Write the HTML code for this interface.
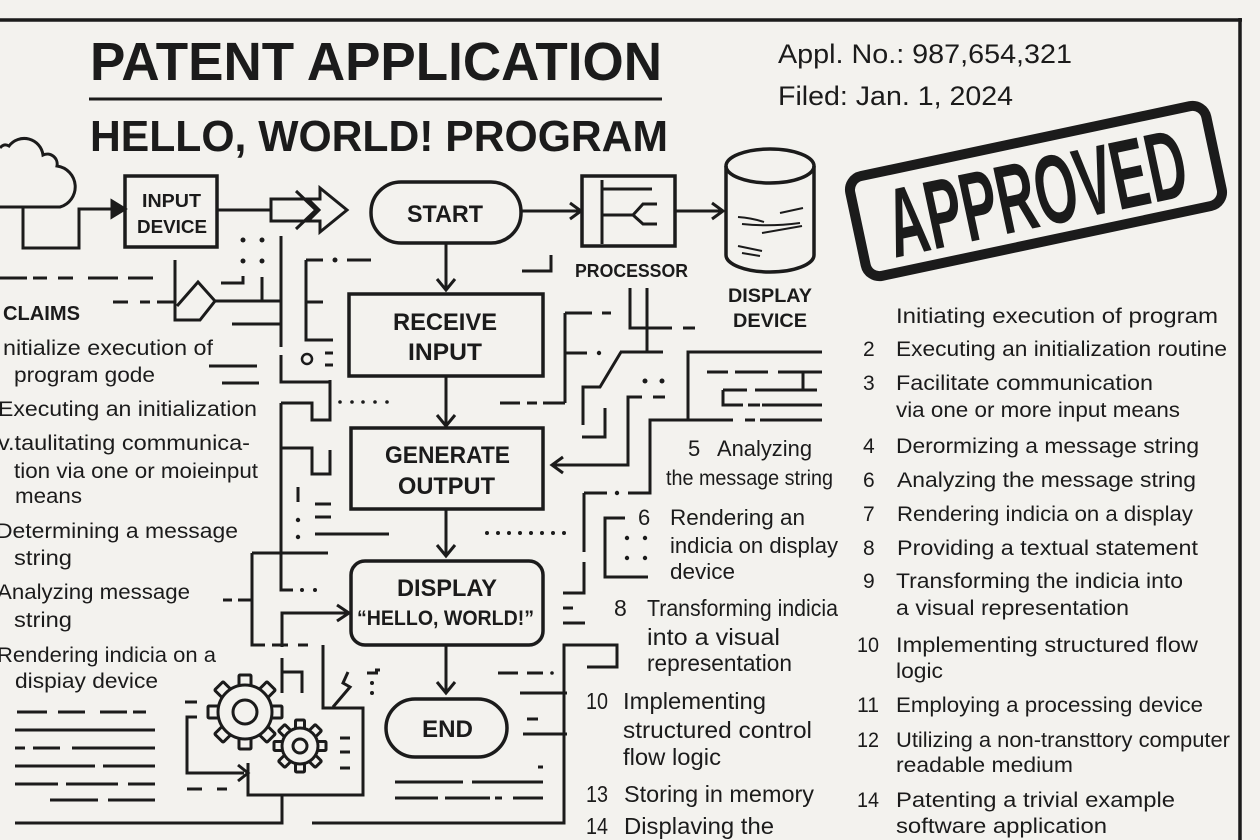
<!DOCTYPE html>
<html><head><meta charset="utf-8"><style>
html,body{margin:0;padding:0;background:#f3f2ee;}
svg{display:block;font-family:"Liberation Sans",sans-serif;}
</style></head><body>
<svg width="1260" height="840" viewBox="0 0 1260 840" xmlns="http://www.w3.org/2000/svg">
<rect width="1260" height="840" fill="#f3f2ee"/>
<defs>
<rect id="t1" x="-6" y="-37" width="12" height="15" rx="1"/>
<rect id="t2" x="-4.5" y="-26" width="9" height="12" rx="1"/>
</defs>
<g stroke="#1b1b1b" stroke-width="3" fill="none">
<path d="M0,20 H1242" stroke-width="3.5"/>
<path d="M1240,18 V840" stroke-width="3.5"/>
<path d="M89,99 H662"/>
<path d="M0,148 Q4,143 9,146 A19,19 0 0 1 43,155 A10,10 0 0 1 57,166 A21,21 0 0 1 60,207 H0"/>
<path d="M23,207 V248 H79 V209 H116"/>
<path d="M112,201 L125,209 L112,217 Z" fill="#1b1b1b"/>
<rect x="125" y="176" width="92" height="71" stroke-width="3.5"/>
<path d="M217,210 H271"/>
<path d="M271,199 H320 V188 L347,210 L320,232 V221 H271 Z"/>
<path d="M296,191 L316,210 L296,229 M308,199 L319,210 L308,221"/>
<rect x="371" y="182" width="150" height="61" rx="30" stroke-width="3.5"/>
<path d="M521,211 H580 M570,203 L581,211 L570,219"/>
<rect x="582" y="176" width="93" height="70" stroke-width="3.5"/>
<path d="M602,180 V244 M602,189 H652 M602,215 H633 L643,204 H657 M633,215 L643,224 H657"/>
<path d="M675,211 H722 M712,203 L723,211 L712,219"/>
<path d="M726,166 V255 A44,17 0 0 0 814,255 V166" stroke-width="3.5"/>
<ellipse cx="770" cy="166" rx="44" ry="17" stroke-width="3.5"/>
<path d="M738,217 Q752,218 764,222 M780,213 L803,208 M742,224 Q770,227 800,223 M762,233 L802,226 M738,246 L762,251 M742,253 L760,256" stroke-width="2"/>
<path d="M446,243 V290 M437,279 L446,290 L455,279"/>
<rect x="349" y="294" width="194" height="82" stroke-width="3.5"/>
<path d="M446,376 V426 M437,415 L446,426 L455,415"/>
<rect x="351" y="428" width="192" height="81" stroke-width="3.5"/>
<path d="M446,509 V556 M437,545 L446,556 L455,545"/>
<rect x="351" y="561" width="192" height="84" rx="14" stroke-width="3.5"/>
<path d="M446,645 V693 M437,682 L446,693 L455,682"/>
<rect x="386" y="699" width="121" height="58" rx="29" stroke-width="3.5"/>
<path d="M282,647 V613 H347 M337,605 L349,613 L337,621"/>
<path d="M642,397 H628 V465 H553 M563,457 L552,465 L563,473 M653,397 H665"/>
<path d="M0,278 H27 M33,278 H47 M58,278 H73 M88,278 H118 M128,278 H153"/>
<path d="M113,302 H128 M140,302 H150 M157,302 H176"/>
<path d="M175,260 V320 H200 L215,301 L198,282 L177,306"/>
<path d="M215,301 H281 M221,283 H243 V276 M262,277 V301 M232,324 H281 M281,236 V347"/>
<path d="M306,260 V340 H333 M306,260 H323 M347,260 H371 M306,302 H323"/>
<path d="M325,353 H333 M325,365 H333 M209,366 H257 M222,383 H259"/>
<circle cx="307" cy="359" r="5" stroke-width="2.5"/>
<path d="M281,355 V382 H330 V420 H312 V403 H281 M330,380 V382"/>
<path d="M281,403 V590 H293 M281,448 H312 V474 H330 V450"/>
<path d="M298,487 V502 M315,504 H331 M315,517 H331 M315,534 H389"/>
<path d="M252,553 H328 M252,553 V645 H265 M272,645 H288 M298,645 H308 M223,600 H232 M238,600 H252"/>
<path d="M323,645 V708 H363 V795 H248 V763"/>
<path d="M282,658 V693 M282,672 H302 V693 M333,707 L350,687 L343,683 L348,672"/>
<path d="M197,717 H187 V773 H244 M238,765 L248,773 L238,781"/>
<path d="M185,702 H197 M187,789 H202 M217,789 H227 M340,738 H350 M340,752 H350 M340,768 H350 M367,673 H378"/>
<path d="M282,795 V823 H15 M312,823 H564 V645 H617 V667 H587"/>
<path d="M17,712 H47 M58,712 H85 M100,712 H127 M133,712 H146 M15,730 H155 M15,748 H25 M33,748 H60 M72,748 H155 M15,766 H95 M103,766 H155 M15,784 H58 M66,784 H118 M128,784 H155 M50,800 H98 M108,800 H155"/>
<g transform="translate(245,712)" fill="#f3f2ee">
<use href="#t1"/><use href="#t1" transform="rotate(45)"/><use href="#t1" transform="rotate(90)"/><use href="#t1" transform="rotate(135)"/><use href="#t1" transform="rotate(180)"/><use href="#t1" transform="rotate(225)"/><use href="#t1" transform="rotate(270)"/><use href="#t1" transform="rotate(315)"/>
<circle r="27"/><circle r="12"/>
</g>
<g transform="translate(300,746)" fill="#f3f2ee">
<use href="#t2"/><use href="#t2" transform="rotate(45)"/><use href="#t2" transform="rotate(90)"/><use href="#t2" transform="rotate(135)"/><use href="#t2" transform="rotate(180)"/><use href="#t2" transform="rotate(225)"/><use href="#t2" transform="rotate(270)"/><use href="#t2" transform="rotate(315)"/>
<circle r="18"/><circle r="7"/>
</g>
<path d="M498,673 H518 M527,673 H543 M520,693 H567 M523,734 H567 M527,719 H538 M538,767 H543"/>
<path d="M395,782 H463 M472,782 H543 M395,798 H438 M445,798 H490 M495,798 H502 M513,798 H543"/>
<path d="M375,670 H380"/>
<path d="M584,493 V552 M584,562 V593 H563 M563,608 H573 M563,623 H585"/>
<path d="M584,493 H607 M628,493 H650 V420 H733 M745,420 H755 M760,420 H822 M688,420 V352 H822"/>
<path d="M625,518 H605 V577 H648"/>
<path d="M565,313 V403 M565,313 H592 M602,313 H611 M565,353 H587"/>
<path d="M500,403 H520 M527,403 H537 M543,403 H565"/>
<path d="M630,288 V328 H672 M683,328 H695 M647,288 V352 M620,352 H663 M621,352 L600,387 H583 V425 M605,408 V437 H582"/>
<path d="M707,372 H728 M735,372 H768 M778,372 H822 M803,372 V390 M723,390 V405 H743 M748,405 H760 M762,405 H822 M723,390 H747 M755,390 H817"/>
<path d="M522,271 H551 V255"/>
<g transform="translate(1036,191) rotate(-12)">
<rect x="-182" y="-51" width="364" height="102" rx="14" stroke-width="10"/>
</g>
</g>
<g fill="#1b1b1b">
<circle cx="243" cy="240" r="2.5"/><circle cx="262" cy="240" r="2.5"/><circle cx="243" cy="261" r="2.5"/><circle cx="262" cy="261" r="2.5"/>
<circle cx="335" cy="260" r="2.5"/>
<circle cx="340" cy="402" r="1.8"/><circle cx="352" cy="402" r="1.8"/><circle cx="363" cy="402" r="1.8"/><circle cx="375" cy="402" r="1.8"/><circle cx="387" cy="402" r="1.8"/>
<circle cx="298" cy="520" r="2.2"/><circle cx="298" cy="537" r="2.2"/>
<circle cx="302" cy="590" r="2"/><circle cx="315" cy="590" r="2"/>
<circle cx="372" cy="683" r="2"/><circle cx="372" cy="693" r="2"/>
<circle cx="552" cy="673" r="1.8"/>
<circle cx="617" cy="493" r="2.2"/>
<circle cx="627" cy="538" r="2.2"/><circle cx="645" cy="538" r="2.2"/><circle cx="627" cy="558" r="2.2"/><circle cx="645" cy="558" r="2.2"/>
<circle cx="487" cy="533" r="2"/><circle cx="498" cy="533" r="2"/><circle cx="509" cy="533" r="2"/><circle cx="520" cy="533" r="2"/><circle cx="531" cy="533" r="2"/><circle cx="542" cy="533" r="2"/><circle cx="553" cy="533" r="2"/><circle cx="564" cy="533" r="2"/>
<circle cx="599" cy="353" r="2.2"/>
<circle cx="645" cy="381" r="2.5"/><circle cx="662" cy="381" r="2.5"/>
</g>
<g fill="#1b1b1b" font-family="Liberation Sans, sans-serif">
<text x="90" y="80" font-size="54" font-weight="bold" textLength="572" lengthAdjust="spacingAndGlyphs">PATENT APPLICATION</text>
<text x="90" y="151" font-size="44" font-weight="bold" textLength="578" lengthAdjust="spacingAndGlyphs">HELLO, WORLD! PROGRAM</text>
<text x="778" y="63" font-size="27" textLength="294" lengthAdjust="spacingAndGlyphs">Appl. No.: 987,654,321</text>
<text x="778" y="105" font-size="27" textLength="235" lengthAdjust="spacingAndGlyphs">Filed: Jan. 1, 2024</text>
<g transform="translate(1036,191) rotate(-12)">
<text x="-152" y="36" font-size="98" font-weight="bold" font-family="Liberation Sans Narrow, Liberation Sans, sans-serif" textLength="304" lengthAdjust="spacingAndGlyphs">APPROVED</text>
</g>
<g font-weight="bold">
<text x="142" y="207" font-size="18" textLength="59" lengthAdjust="spacingAndGlyphs">INPUT</text>
<text x="137" y="233" font-size="18" textLength="70" lengthAdjust="spacingAndGlyphs">DEVICE</text>
<text x="407" y="222" font-size="24" textLength="76" lengthAdjust="spacingAndGlyphs">START</text>
<text x="575" y="277" font-size="18" textLength="113" lengthAdjust="spacingAndGlyphs">PROCESSOR</text>
<text x="728" y="302" font-size="19" textLength="84" lengthAdjust="spacingAndGlyphs">DISPLAY</text>
<text x="733" y="327" font-size="19" textLength="74" lengthAdjust="spacingAndGlyphs">DEVICE</text>
<text x="393" y="330" font-size="24" textLength="104" lengthAdjust="spacingAndGlyphs">RECEIVE</text>
<text x="408" y="360" font-size="24" textLength="74" lengthAdjust="spacingAndGlyphs">INPUT</text>
<text x="385" y="463" font-size="24" textLength="125" lengthAdjust="spacingAndGlyphs">GENERATE</text>
<text x="398" y="494" font-size="24" textLength="97" lengthAdjust="spacingAndGlyphs">OUTPUT</text>
<text x="397" y="596" font-size="24" textLength="100" lengthAdjust="spacingAndGlyphs">DISPLAY</text>
<text x="357" y="625" font-size="21" textLength="177" lengthAdjust="spacingAndGlyphs">“HELLO, WORLD!”</text>
<text x="422" y="737" font-size="24" textLength="51" lengthAdjust="spacingAndGlyphs">END</text>
<text x="3" y="320" font-size="20" textLength="77" lengthAdjust="spacingAndGlyphs">CLAIMS</text>
</g>
<g font-size="21">
<text x="3" y="355" textLength="210" lengthAdjust="spacingAndGlyphs">nitialize execution of</text>
<text x="14" y="382" textLength="141" lengthAdjust="spacingAndGlyphs">program gode</text>
<text x="-2" y="416" textLength="259" lengthAdjust="spacingAndGlyphs">Executing an initialization</text>
<text x="-2" y="450" textLength="252" lengthAdjust="spacingAndGlyphs">v.taulitating communica-</text>
<text x="14" y="478" textLength="244" lengthAdjust="spacingAndGlyphs">tion via one or moieinput</text>
<text x="15" y="503" textLength="67" lengthAdjust="spacingAndGlyphs">means</text>
<text x="-4" y="538" textLength="242" lengthAdjust="spacingAndGlyphs">Determining a message</text>
<text x="14" y="565" textLength="58" lengthAdjust="spacingAndGlyphs">string</text>
<text x="-3" y="599" textLength="193" lengthAdjust="spacingAndGlyphs">Analyzing message</text>
<text x="14" y="627" textLength="58" lengthAdjust="spacingAndGlyphs">string</text>
<text x="-3" y="662" textLength="219" lengthAdjust="spacingAndGlyphs">Rendering indicia on a</text>
<text x="15" y="688" textLength="143" lengthAdjust="spacingAndGlyphs">dispiay device</text>
<text x="688" y="456" font-size="22">5</text>
<text x="717" y="456" font-size="22" textLength="95" lengthAdjust="spacingAndGlyphs">Analyzing</text>
<text x="666" y="485" textLength="167" lengthAdjust="spacingAndGlyphs">the message string</text>
<text x="638" y="525" font-size="22">6</text>
<text x="670" y="525" font-size="22" textLength="135" lengthAdjust="spacingAndGlyphs">Rendering an</text>
<text x="670" y="553" font-size="22" textLength="168" lengthAdjust="spacingAndGlyphs">indicia on display</text>
<text x="670" y="579" font-size="22" textLength="65" lengthAdjust="spacingAndGlyphs">device</text>
<g font-size="23">
<text x="614" y="616">8</text>
<text x="647" y="616" textLength="191" lengthAdjust="spacingAndGlyphs">Transforming indicia</text>
<text x="647" y="645" textLength="133" lengthAdjust="spacingAndGlyphs">into a visual</text>
<text x="647" y="671" textLength="145" lengthAdjust="spacingAndGlyphs">representation</text>
<text x="586" y="709" textLength="22" lengthAdjust="spacingAndGlyphs">10</text>
<text x="623" y="709" textLength="143" lengthAdjust="spacingAndGlyphs">Implementing</text>
<text x="623" y="738" textLength="189" lengthAdjust="spacingAndGlyphs">structured control</text>
<text x="623" y="765" textLength="98" lengthAdjust="spacingAndGlyphs">flow logic</text>
<text x="586" y="802" textLength="22" lengthAdjust="spacingAndGlyphs">13</text>
<text x="624" y="802" textLength="190" lengthAdjust="spacingAndGlyphs">Storing in memory</text>
<text x="586" y="834" textLength="22" lengthAdjust="spacingAndGlyphs">14</text>
<text x="624" y="834" textLength="150" lengthAdjust="spacingAndGlyphs">Displaving the</text>
</g>
<text x="896" y="323" textLength="322" lengthAdjust="spacingAndGlyphs">Initiating execution of program</text>
<text x="863" y="356">2</text>
<text x="896" y="356" textLength="331" lengthAdjust="spacingAndGlyphs">Executing an initialization routine</text>
<text x="863" y="390">3</text>
<text x="896" y="390" textLength="257" lengthAdjust="spacingAndGlyphs">Facilitate communication</text>
<text x="896" y="417" textLength="284" lengthAdjust="spacingAndGlyphs">via one or more input means</text>
<text x="863" y="453">4</text>
<text x="896" y="453" textLength="303" lengthAdjust="spacingAndGlyphs">Derormizing a message string</text>
<text x="863" y="487">6</text>
<text x="897" y="487" textLength="299" lengthAdjust="spacingAndGlyphs">Analyzing the message string</text>
<text x="863" y="521">7</text>
<text x="897" y="521" textLength="296" lengthAdjust="spacingAndGlyphs">Rendering indicia on a display</text>
<text x="863" y="555">8</text>
<text x="897" y="555" textLength="301" lengthAdjust="spacingAndGlyphs">Providing a textual statement</text>
<text x="863" y="588">9</text>
<text x="896" y="588" textLength="287" lengthAdjust="spacingAndGlyphs">Transforming the indicia into</text>
<text x="896" y="615" textLength="233" lengthAdjust="spacingAndGlyphs">a visual representation</text>
<text x="857" y="652" textLength="22" lengthAdjust="spacingAndGlyphs">10</text>
<text x="896" y="652" textLength="302" lengthAdjust="spacingAndGlyphs">Implementing structured flow</text>
<text x="896" y="678" textLength="47" lengthAdjust="spacingAndGlyphs">logic</text>
<text x="857" y="712" textLength="22" lengthAdjust="spacingAndGlyphs">11</text>
<text x="896" y="712" textLength="307" lengthAdjust="spacingAndGlyphs">Employing a processing device</text>
<text x="857" y="747" textLength="22" lengthAdjust="spacingAndGlyphs">12</text>
<text x="896" y="747" textLength="334" lengthAdjust="spacingAndGlyphs">Utilizing a non-transttory computer</text>
<text x="896" y="772" textLength="177" lengthAdjust="spacingAndGlyphs">readable medium</text>
<text x="857" y="807" textLength="22" lengthAdjust="spacingAndGlyphs">14</text>
<text x="896" y="807" textLength="279" lengthAdjust="spacingAndGlyphs">Patenting a trivial example</text>
<text x="896" y="833" textLength="211" lengthAdjust="spacingAndGlyphs">software application</text>
</g>
</g>
</svg>
</body></html>
